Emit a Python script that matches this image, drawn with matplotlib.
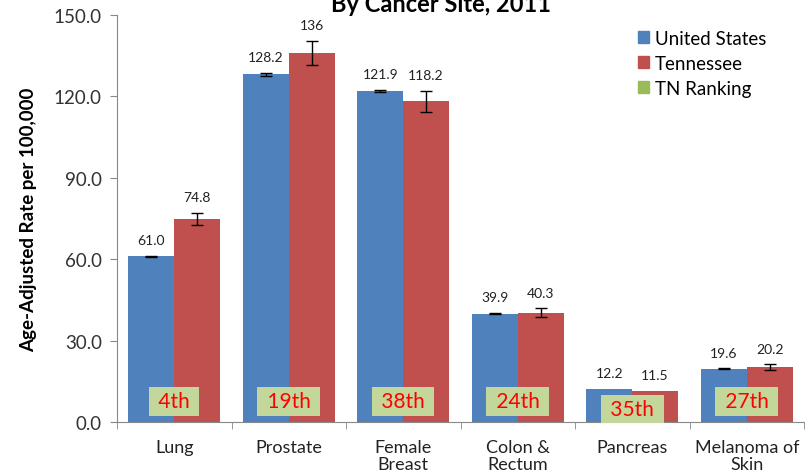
import matplotlib
matplotlib.use("Agg")
import matplotlib.pyplot as plt
import numpy as np
from matplotlib.patches import Patch

categories = ["Lung", "Prostate", "Female\nBreast", "Colon &\nRectum", "Pancreas", "Melanoma of\nSkin"]
us_values = [61.0, 128.2, 121.9, 39.9, 12.2, 19.6]
tn_values = [74.8, 136.0, 118.2, 40.3, 11.5, 20.2]
us_labels = ["61.0", "128.2", "121.9", "39.9", "12.2", "19.6"]
tn_labels = ["74.8", "136", "118.2", "40.3", "11.5", "20.2"]
us_err = [0.3, 0.6, 0.4, 0.2, 0.0, 0.2]
tn_err = [2.2, 4.4, 3.8, 1.6, 0.0, 1.0]
rankings = ["4th", "19th", "38th", "24th", "35th", "27th"]
yticks = [0, 30, 60, 90, 120, 150]

BLUE = "#4F81BD"
RED = "#C0504D"
GREEN_BOX = "#C4D79B"
GREEN_LEG = "#9BBB59"
FONT = "Lato"

plt.rcParams['font.family'] = [FONT, 'DejaVu Sans']

fig = plt.figure(figsize=(8.05, 4.77), dpi=100)
ax = fig.add_axes([117/805, 1-423/477, (804-117)/805, (423-16)/477])

x = np.arange(len(categories))
w = 0.4
ax.bar(x - w/2, us_values, w, color=BLUE, zorder=2)
ax.bar(x + w/2, tn_values, w, color=RED, zorder=2)
for i in range(len(x)):
    if us_err[i] > 0:
        ax.errorbar(x[i]-w/2, us_values[i], yerr=us_err[i], fmt='none', ecolor='black', elinewidth=1, capsize=4, capthick=1, zorder=3)
    if tn_err[i] > 0:
        ax.errorbar(x[i]+w/2, tn_values[i], yerr=tn_err[i], fmt='none', ecolor='black', elinewidth=1, capsize=4, capthick=1, zorder=3)
    ax.annotate(us_labels[i], (x[i]-w/2, us_values[i]+us_err[i]), xytext=(0, 7), textcoords='offset points',
                ha='center', va='bottom', fontsize=10, color='#222222')
    ax.annotate(tn_labels[i], (x[i]+w/2, tn_values[i]+tn_err[i]), xytext=(0, 7), textcoords='offset points',
                ha='center', va='bottom', fontsize=10, color='#222222')
    ypos = 1.2 if i == 4 else 3.9
    ax.text(x[i], ypos, " " + rankings[i] + " ", ha='center', va='bottom', fontsize=15, color='#FF0000', zorder=5,
            bbox=dict(boxstyle='square,pad=0.2', facecolor=GREEN_BOX, edgecolor='none'))

ax.set_xlim(-0.5, len(x)-0.5)
ax.set_ylim(0, 150)
ax.set_yticks(yticks)
ax.set_yticklabels([f"{v:.1f}" for v in yticks], fontsize=13.5, color='#333333')
ax.set_xticks(x)
ax.set_xticklabels(categories, fontsize=13, color='#222222', linespacing=1.08)
ax.tick_params(axis='x', which='major', length=0, pad=12)
ax.set_xticks(np.arange(-0.5, len(x)), minor=True)
ax.tick_params(axis='x', which='minor', length=5, color='#888888')
ax.tick_params(axis='y', length=5, color='#888888', pad=6)
for s in ['top', 'right']:
    ax.spines[s].set_visible(False)
for s in ['left', 'bottom']:
    ax.spines[s].set_color('#888888')
ax.set_ylabel("Age-Adjusted Rate per 100,000", fontsize=13.5, fontweight='bold', labelpad=12)

handles = [Patch(color=BLUE), Patch(color=RED), Patch(color=GREEN_LEG)]
leg = fig.legend(handles, ["United States", "Tennessee", "TN Ranking"], loc='upper left',
                 bbox_to_anchor=(638/805, 1-31/477), bbox_transform=fig.transFigure,
                 frameon=False, fontsize=13.5, handlelength=0.6, handleheight=0.6,
                 handletextpad=0.3, labelspacing=0.42, borderpad=0, borderaxespad=0)

fig.text(441/805, 1-12/477, "By Cancer Site, 2011", ha='center', va='baseline', fontsize=17, fontweight='bold')

fig.savefig("out.png", dpi=100)
